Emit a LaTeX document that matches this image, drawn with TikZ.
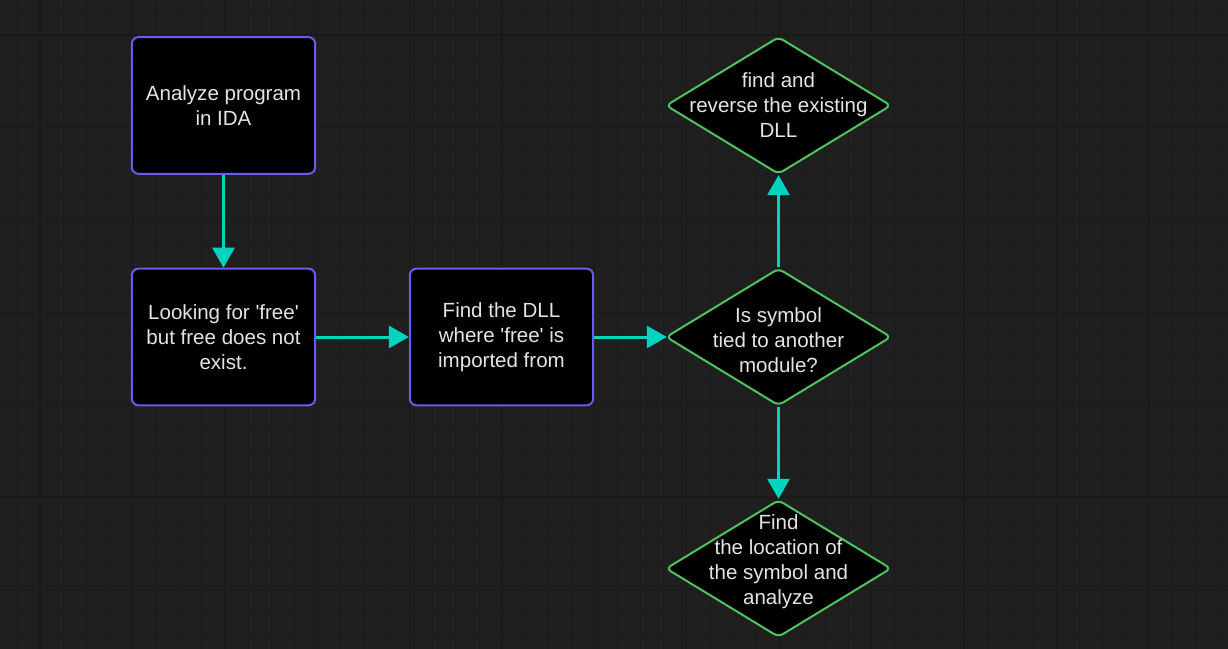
\documentclass[tikz,border=0pt]{standalone}
\usepackage{fontspec}
\setmainfont{Liberation Sans}
\usetikzlibrary{shapes.geometric,arrows.meta}
\definecolor{bgcol}{RGB}{31,31,31}
\definecolor{gridminor}{RGB}{28,28,28}
\definecolor{gridmajor}{RGB}{25,25,25}
\definecolor{boxcol}{RGB}{104,92,238}
\definecolor{deccol}{RGB}{78,196,92}
\definecolor{linkcol}{RGB}{0,212,190}
\definecolor{txtcol}{RGB}{228,228,228}

\begin{document}
\begin{tikzpicture}[x=0.75pt, y=-0.75pt,
	box/.style = {draw=boxcol, fill=black, line width=1.5pt, rounded corners=5pt, minimum width=137.5pt, minimum height=102.5pt},
	decision/.style = {diamond, draw=deccol, fill=black, line width=1.5pt, rounded corners=4pt, minimum width=169pt, minimum height=103pt, inner sep=0pt},
	txt/.style = {text=txtcol, align=center, font=\fontsize{15.4}{18.8}\selectfont},
	link/.style = {draw=linkcol, line width=2.25pt, -{Triangle[length=15pt,width=16.5pt]}}]

	% background and grid
	\useasboundingbox (0,0) rectangle (1228,649);
	\clip (0,0) rectangle (1228,649);
	\fill[bgcol] (0,0) rectangle (1228,649);
	\foreach \i in {0,...,52}
		\draw[gridminor, line width=0.6pt] ({16.9+23.1*\i},0) -- ({16.9+23.1*\i},649);
	\foreach \j in {0,...,27}
		\draw[gridminor, line width=0.6pt] (0,{11.9+23.1*\j}) -- (1228,{11.9+23.1*\j});
	\foreach \i in {0,...,12}
		\draw[gridmajor, line width=0.8pt] ({40+92.4*\i},0) -- ({40+92.4*\i},649);
	\foreach \j in {0,...,6}
		\draw[gridmajor, line width=0.8pt] (0,{35+92.4*\j}) -- (1228,{35+92.4*\j});

	% boxes
	\node[box, txt] (analyze) at (223.5,105.5) {Analyze program\\in IDA};
	\node[box, txt] (looking) at (223.5,337) {Looking for \textquotesingle free\textquotesingle\\but free does not\\exist.};
	\node[box, txt] (finddll) at (501.5,337) {Find the DLL\\where \textquotesingle free\textquotesingle{} is\\imported from};

	% decisions
	\node[decision] (dTop) at (778.5,105.5) {};
	\node[txt] (dTopText) at (778.5,105) {find and\\reverse the existing\\DLL};
	\node[decision] (dMid) at (778.5,337) {};
	\node[txt] (dMidText) at (778.5,340) {Is symbol\\tied to another\\module?};
	\node[decision] (dBot) at (778.5,568.5) {};
	\node[txt] (dBotText) at (778.5,561.5) {Find\\the location of\\the symbol and\\analyze};

	% connectors
	\draw[link] (analyze) -- (looking);
	\draw[link] (looking) -- (finddll);
	\draw[link, shorten >=-1.5pt] (finddll) -- (dMid.west);
	\draw[link] (dMid.north) -- (dTop.south);
	\draw[link] (dMid.south) -- (dBot.north);
\end{tikzpicture}
\end{document}
